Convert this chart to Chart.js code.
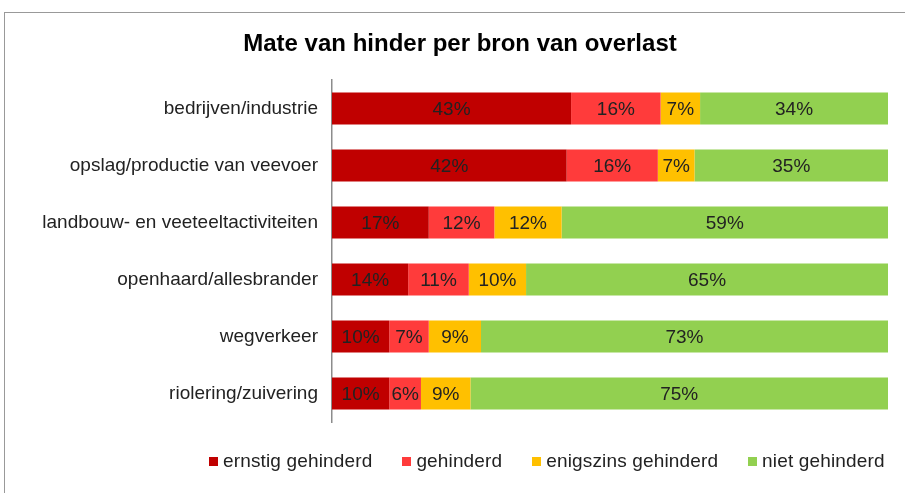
<!DOCTYPE html>
<html>
<head>
<meta charset="utf-8">
<script src="https://cdn.jsdelivr.net/npm/chart.js@4"></script>
<style>
  html, body { margin: 0; padding: 0; background: #fff; overflow: hidden; }
  #frame { position: absolute; left: 4px; top: 12px; width: 1000px; height: 600px; border: 1px solid #999; }
  #wrap { position: absolute; left: 0; top: 0; width: 905px; height: 493px; }
  #legend { position: absolute; left: 209px; top: 450px; display: flex; align-items: center;
            font: 19px "Liberation Sans", Arial, sans-serif; color: #222; white-space: nowrap;
            letter-spacing: 0.15px; }
  #legend .item { display: flex; align-items: center; margin-right: 30px; }
  #legend .box { width: 9px; height: 9px; margin-right: 5px; }
</style>
</head>
<body>
<div id="frame"></div>
<div id="wrap"><canvas id="hinderChart" width="905" height="493"></canvas></div>
<div id="legend"></div>
<script>
  // categories and series (percentages)
  var categories = [
    "bedrijven/industrie",
    "opslag/productie van veevoer",
    "landbouw- en veeteeltactiviteiten",
    "openhaard/allesbrander",
    "wegverkeer",
    "riolering/zuivering"
  ];
  var seriesNames = ["ernstig gehinderd", "gehinderd", "enigszins gehinderd", "niet gehinderd"];
  var ernstig   = [43.0, 42.2, 17.4, 13.7, 10.3, 10.3];
  var gehinderd = [16.1, 16.4, 11.8, 10.9, 7.1, 5.7];
  var enigszins = [7.1, 6.6, 12.1, 10.3, 9.4, 8.9];
  var niet      = [33.8, 34.8, 58.7, 65.1, 73.2, 75.1];
  var colors = ["#C00000", "#FF3B3B", "#FFC000", "#92D050"];

  var fontFamily = '"Liberation Sans", Arial, sans-serif';

  // draw the % in the middle of every segment
  var barLabels = {
    id: "barLabels",
    afterDatasetsDraw: function(chart) {
      var ctx = chart.ctx;
      ctx.save();
      ctx.font = "19px " + fontFamily;
      ctx.fillStyle = "#222";
      ctx.textAlign = "center";
      ctx.textBaseline = "middle";
      chart.data.datasets.forEach(function(ds, i) {
        var meta = chart.getDatasetMeta(i);
        meta.data.forEach(function(bar, j) {
          var p = bar.getCenterPoint();
          ctx.fillText(Math.round(ds.data[j]) + "%", p.x, p.y + 1);
        });
      });
      ctx.restore();
    }
  };

  var series = [ernstig, gehinderd, enigszins, niet];
  var datasets = series.map(function(d, i) {
    return {
      label: seriesNames[i],
      data: d,
      backgroundColor: colors[i],
      borderWidth: 0,
      categoryPercentage: 1,
      barPercentage: 0.56
    };
  });

  var canvas = document.getElementById("hinderChart");
  var hinderChart = new Chart(canvas, {
    type: "bar",
    data: { labels: categories, datasets: datasets },
    options: {
      indexAxis: "y",
      responsive: false,
      animation: false,
      layout: { padding: { left: 32, right: 17, top: 0, bottom: 71 } },
      plugins: {
        legend: { display: false },
        tooltip: { enabled: false },
        title: {
          display: true,
          text: "Mate van hinder per bron van overlast",
          color: "#000",
          font: { family: fontFamily, size: 24, weight: "bold", lineHeight: 1.0 },
          padding: { top: 32, bottom: 24 }
        }
      },
      scales: {
        x: { stacked: true, min: 0, max: 100, display: false },
        y: {
          stacked: true,
          grid: { display: false },
          border: { display: true, color: "#8c8c8c", width: 1.5 },
          ticks: { color: "#222", padding: 6, font: { family: fontFamily, size: 19 } },
          afterFit: function(scale) { scale.width = 300; }
        }
      }
    },
    plugins: [barLabels]
  });

  // legend under the chart
  var legendEl = document.getElementById("legend");
  seriesNames.forEach(function(name, i) {
    var item = document.createElement("div");
    item.className = "item";
    var box = document.createElement("span");
    box.className = "box";
    box.style.background = colors[i];
    var txt = document.createElement("span");
    txt.textContent = name;
    item.appendChild(box);
    item.appendChild(txt);
    legendEl.appendChild(item);
  });
</script>
</body>
</html>
